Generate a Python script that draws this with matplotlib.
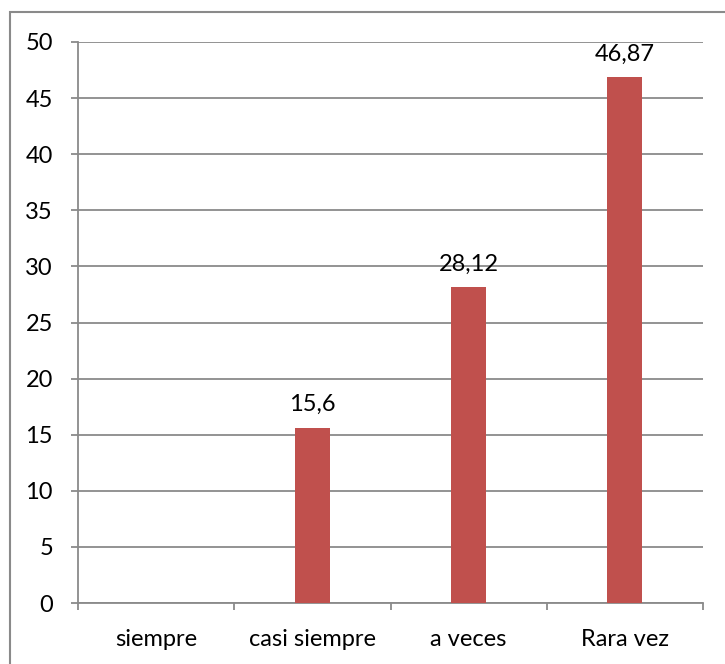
import numpy as np
import matplotlib
matplotlib.use('Agg')
import matplotlib.pyplot as plt
from matplotlib.patches import Rectangle

categories = ['siempre', 'casi siempre', 'a veces', 'Rara vez']
values = [0, 15.6, 28.12, 46.87]
labels = ['', '15,6', '28,12', '46,87']
yticks = [0, 5, 10, 15, 20, 25, 30, 35, 40, 45, 50]

plt.rcParams['font.family'] = ['Lato', 'DejaVu Sans']

W, H = 725, 664
fig = plt.figure(figsize=(W / 100, H / 100), dpi=100)
ax = fig.add_axes([78 / W, 1 - 603 / H, (703 - 78) / W, (603 - 42) / H])

gridc = '#8a8a8a'
fs = 17
x = np.arange(len(categories))
ax.bar(x, values, width=0.225, color='#C0504D', zorder=3)
for xi, v, lab in zip(x, values, labels):
    if lab:
        ax.annotate(lab, (xi, v), xytext=(0, 12), textcoords='offset points',
                    ha='center', va='baseline', fontsize=fs)

ax.set_xlim(-0.5, len(categories) - 0.5)
ax.set_ylim(0, 50)
ax.set_yticks(yticks)
ax.set_yticklabels([str(t) for t in yticks], fontsize=fs)
ax.yaxis.grid(True, color=gridc, linewidth=1.3, zorder=0)
ax.set_axisbelow(True)

ax.set_xticks(x)
ax.set_xticklabels(categories, fontsize=fs)
ax.tick_params(axis='x', length=0, pad=19)
ax.set_xticks(np.arange(len(categories) + 1) - 0.5, minor=True)
ax.tick_params(axis='x', which='minor', length=5, color=gridc, width=1.3)
ax.tick_params(axis='y', length=5, color=gridc, width=1.3, pad=13)

for s in ['top', 'right']:
    ax.spines[s].set_visible(False)
for s in ['left', 'bottom']:
    ax.spines[s].set_color(gridc)
    ax.spines[s].set_linewidth(1.3)

# chart frame: only top and left edges fall inside the picture
fig.patches.append(Rectangle((10 / W, -20 / H), (760 - 10) / W, (652 + 20) / H,
                             transform=fig.transFigure, fill=False,
                             edgecolor='#8a8a8a', linewidth=1.5))

fig.savefig('out.png', dpi=100)
